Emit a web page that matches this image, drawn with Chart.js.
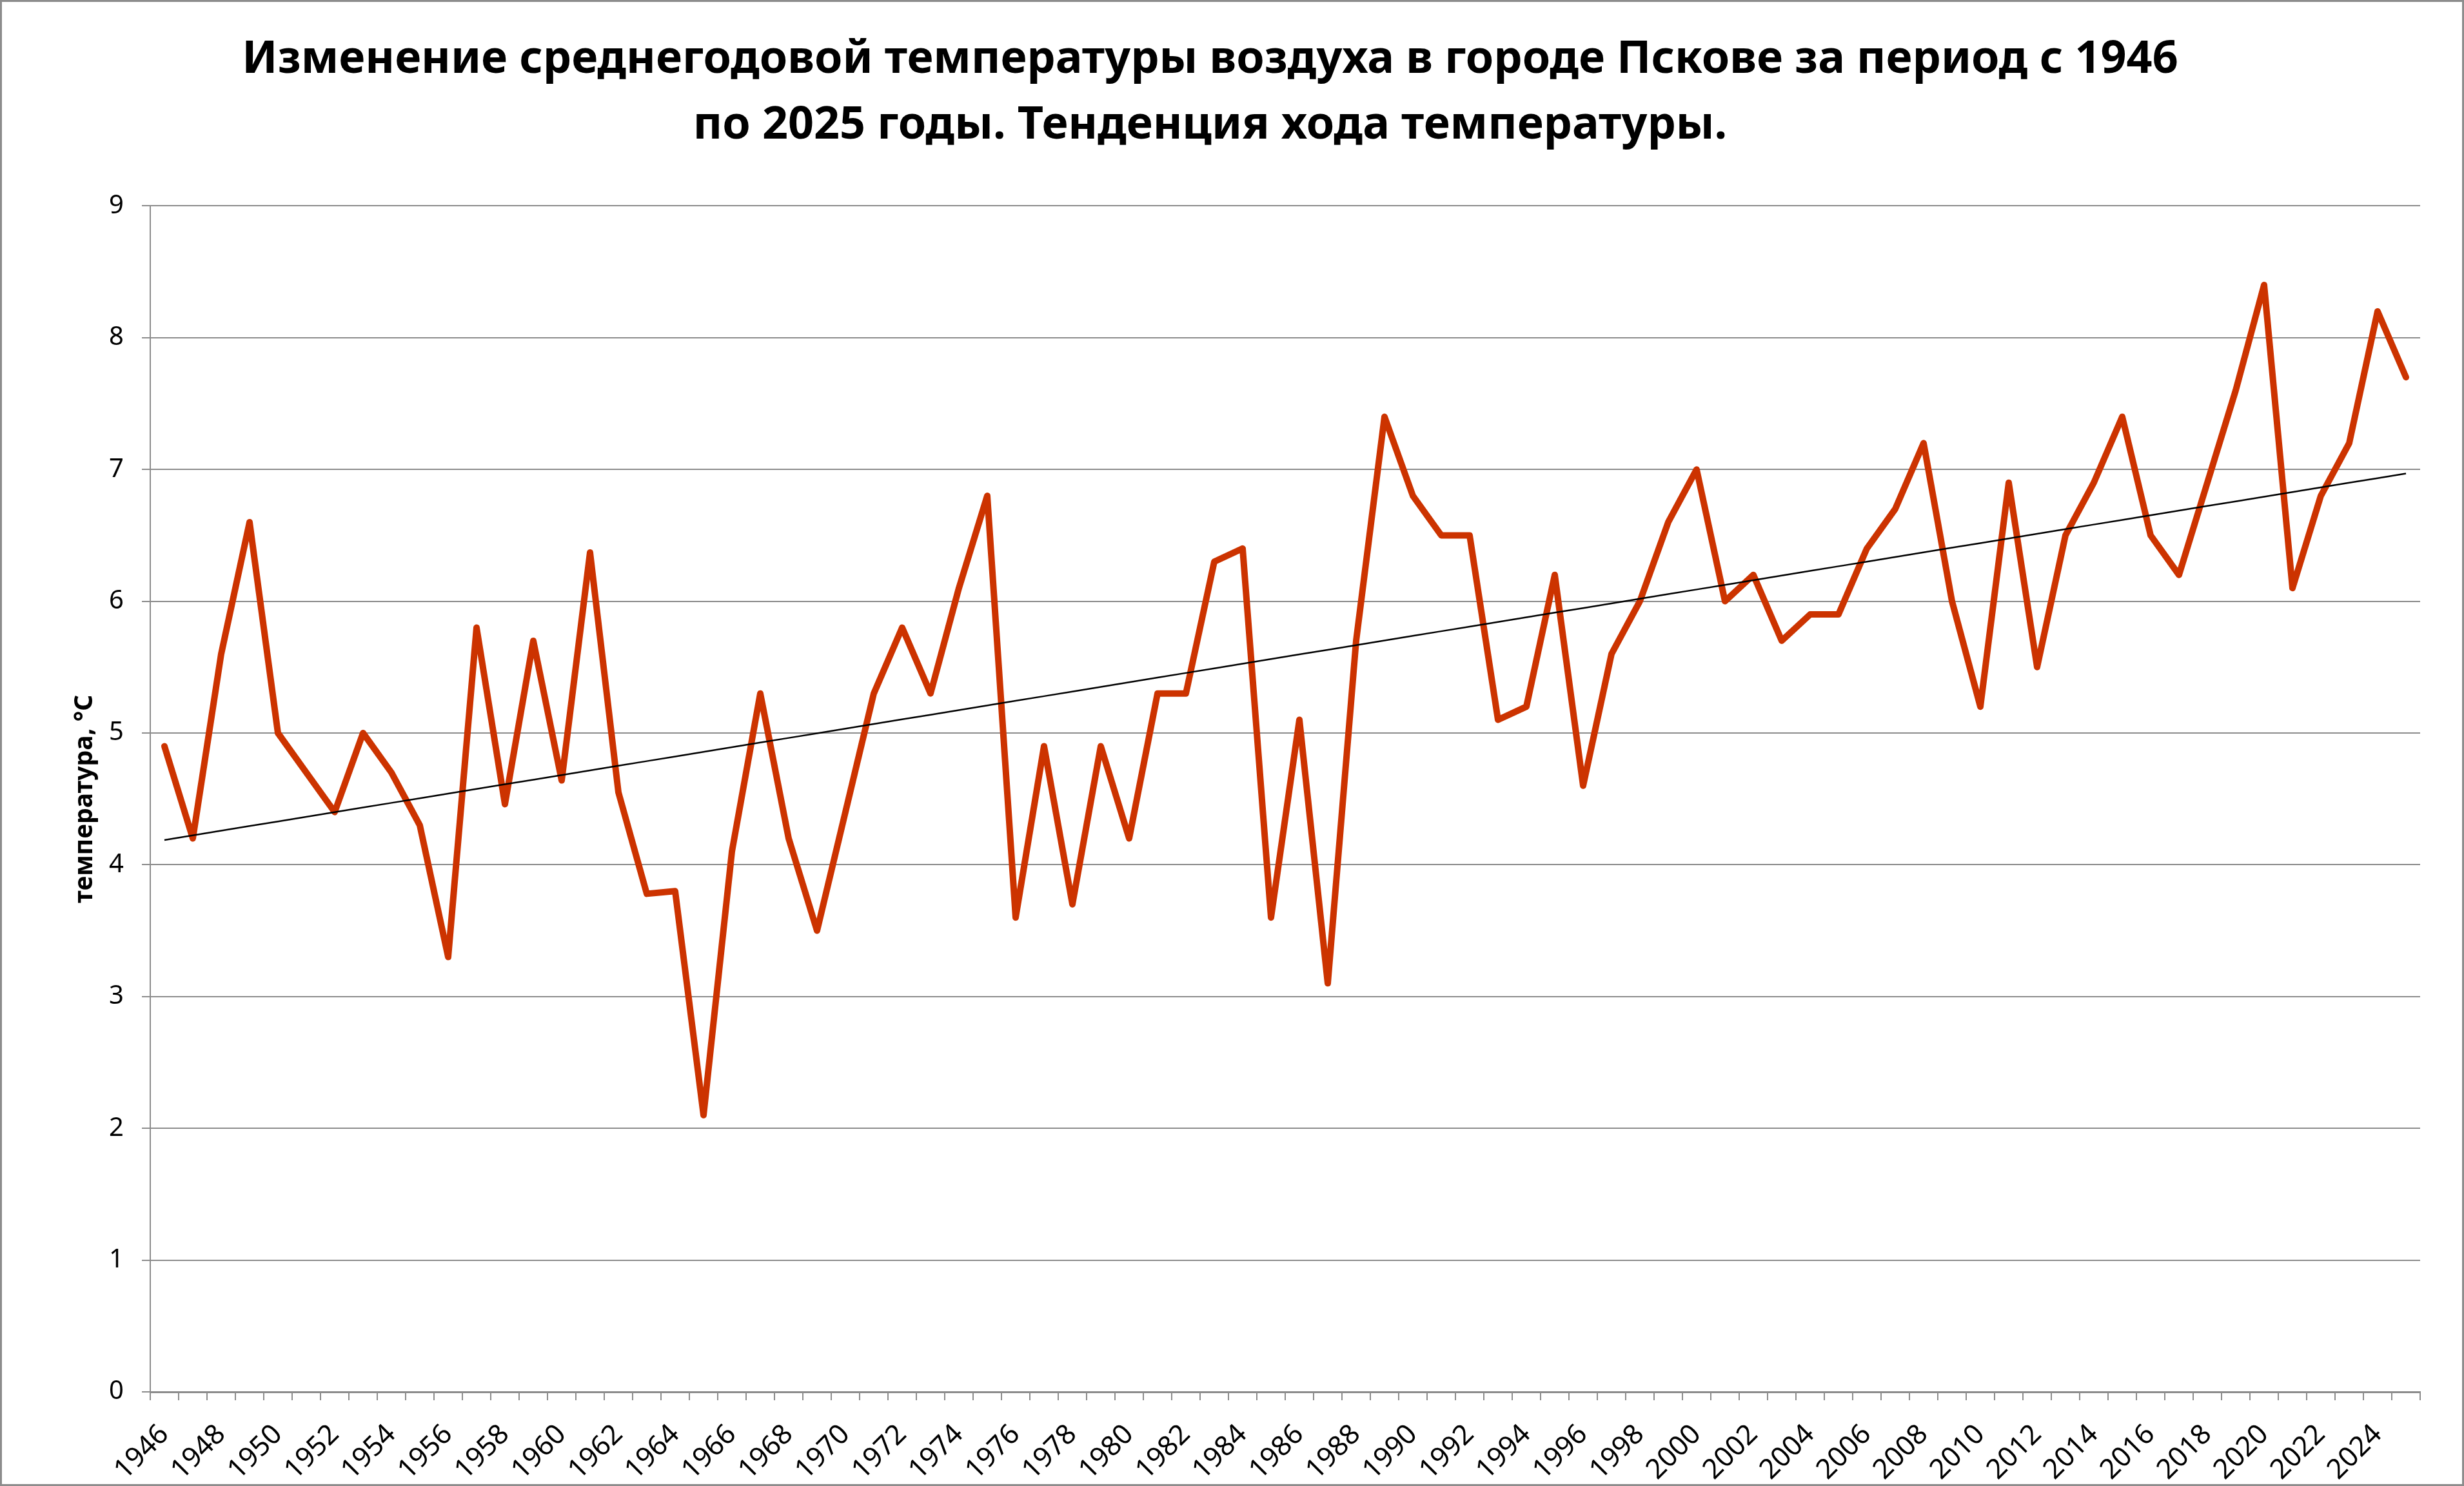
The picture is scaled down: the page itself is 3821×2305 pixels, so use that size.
<!DOCTYPE html>
<html lang="ru">
<head>
<meta charset="utf-8">
<title>Среднегодовая температура воздуха, Псков</title>
<script src="https://cdn.jsdelivr.net/npm/chart.js@4.4.1/dist/chart.umd.min.js"></script>
<style>
    html, body { margin: 0; padding: 0; background: #fff; }
    #wrap { position: relative; width: 3821px; height: 2305px; }
    canvas { display: block; }
</style>
</head>
<body>
<div id="wrap"><canvas id="tempChart" width="3821" height="2305"></canvas></div>
<script>
// Years (categories)
const years = [
    1946, 1947, 1948, 1949, 1950, 1951, 1952, 1953, 1954, 1955,
    1956, 1957, 1958, 1959, 1960, 1961, 1962, 1963, 1964, 1965,
    1966, 1967, 1968, 1969, 1970, 1971, 1972, 1973, 1974, 1975,
    1976, 1977, 1978, 1979, 1980, 1981, 1982, 1983, 1984, 1985,
    1986, 1987, 1988, 1989, 1990, 1991, 1992, 1993, 1994, 1995,
    1996, 1997, 1998, 1999, 2000, 2001, 2002, 2003, 2004, 2005,
    2006, 2007, 2008, 2009, 2010, 2011, 2012, 2013, 2014, 2015,
    2016, 2017, 2018, 2019, 2020, 2021, 2022, 2023, 2024, 2025
];

// Mean annual air temperature, °C
const temperature = [
    4.9, 4.2, 5.6, 6.6, 5.0, 4.7, 4.4, 5.0, 4.7, 4.3,
    3.3, 5.8, 4.46, 5.7, 4.64, 6.37, 4.55, 3.78, 3.8, 2.1,
    4.1, 5.3, 4.2, 3.5, 4.4, 5.3, 5.8, 5.3, 6.1, 6.8,
    3.6, 4.9, 3.7, 4.9, 4.2, 5.3, 5.3, 6.3, 6.4, 3.6,
    5.1, 3.1, 5.7, 7.4, 6.8, 6.5, 6.5, 5.1, 5.2, 6.2,
    4.6, 5.6, 6.0, 6.6, 7.0, 6.0, 6.2, 5.7, 5.9, 5.9,
    6.4, 6.7, 7.2, 6.0, 5.2, 6.9, 5.5, 6.5, 6.9, 7.4,
    6.5, 6.2, 6.9, 7.6, 8.4, 6.1, 6.8, 7.2, 8.2, 7.7
];

// Y axis ticks
const yTicks = [0, 1, 2, 3, 4, 5, 6, 7, 8, 9];

const titleLines = [
    'Изменение среднегодовой температуры воздуха в городе Пскове за период с 1946',
    'по 2025 годы. Тенденция хода температуры.'
];
const yTitle = 'температура, °С';

// Linear trend (least squares), like the spreadsheet trendline
function linearTrend(values) {
    const n = values.length;
    let sx = 0, sy = 0, sxy = 0, sxx = 0;
    values.forEach(function (v, i) {
        sx += i; sy += v; sxy += i * v; sxx += i * i;
    });
    const slope = (n * sxy - sx * sy) / (n * sxx - sx * sx);
    const icpt = (sy - slope * sx) / n;
    return values.map(function (v, i) { return icpt + slope * i; });
}

const gridColor = '#8c8c8c';
const fontFamily = '"Noto Sans", "Open Sans", sans-serif';

// white background + thin frame around the whole picture
const frame = {
    id: 'frame',
    beforeDraw(chart) {
        const c = chart.ctx;
        c.save();
        c.fillStyle = '#fff';
        c.fillRect(0, 0, chart.width, chart.height);
        c.restore();
    },
    afterDraw(chart) {
        const c = chart.ctx;
        c.save();
        c.strokeStyle = '#8c8c8c';
        c.lineWidth = 3;
        c.strokeRect(1.5, 1.5, chart.width - 3, chart.height - 3);
        c.restore();
    }
};

new Chart(document.getElementById('tempChart'), {
    type: 'line',
    data: {
        labels: years.map(String),
        datasets: [
            {
                label: 'Температура',
                data: temperature,
                borderColor: '#cc3300',
                borderWidth: 10,
                borderJoinStyle: 'round',
                borderCapStyle: 'round',
                pointRadius: 0,
                tension: 0,
                fill: false,
                order: 2
            },
            {
                label: 'Тренд',
                data: linearTrend(temperature),
                borderColor: '#000',
                borderWidth: 2.5,
                pointRadius: 0,
                tension: 0,
                fill: false,
                order: 1
            }
        ]
    },
    options: {
        responsive: false,
        devicePixelRatio: 1,
        animation: false,
        layout: { padding: { left: 0, right: 68, top: 0, bottom: 0 } },
        plugins: {
            legend: { display: false },
            tooltip: { enabled: false },
            title: {
                display: true,
                text: titleLines,
                color: '#000',
                font: { family: fontFamily, size: 70, weight: 'bold', lineHeight: 1.46 },
                padding: { top: 42, bottom: 73 }
            }
        },
        scales: {
            x: {
                offset: true,
                grid: {
                    offset: true,
                    drawOnChartArea: false,
                    drawTicks: true,
                    tickLength: 13,
                    color: gridColor,
                    lineWidth: 2
                },
                border: { color: gridColor, width: 3 },
                ticks: {
                    autoSkip: false,
                    maxRotation: 45,
                    minRotation: 45,
                    padding: 28,
                    color: '#000',
                    font: { family: fontFamily, size: 43 },
                    callback: function (value, index) {
                        return index % 2 === 0 ? this.getLabelForValue(value) : '';
                    }
                },
                afterFit: function (scale) { scale.height = 146; }
            },
            y: {
                min: 0,
                max: 9,
                afterBuildTicks: function (scale) {
                    scale.ticks = yTicks.map(function (v) { return { value: v }; });
                },
                grid: {
                    color: gridColor,
                    lineWidth: 2,
                    drawTicks: true,
                    tickLength: 13
                },
                border: { color: gridColor, width: 2 },
                ticks: {
                    padding: 28,
                    color: '#000',
                    font: { family: fontFamily, size: 40 }
                },
                title: {
                    display: true,
                    text: yTitle,
                    color: '#000',
                    font: { family: fontFamily, size: 39, weight: 'bold' },
                    padding: { top: 108, bottom: 0 }
                },
                afterFit: function (scale) { scale.width = 233; }
            }
        }
    },
    plugins: [frame]
});
</script>
</body>
</html>
